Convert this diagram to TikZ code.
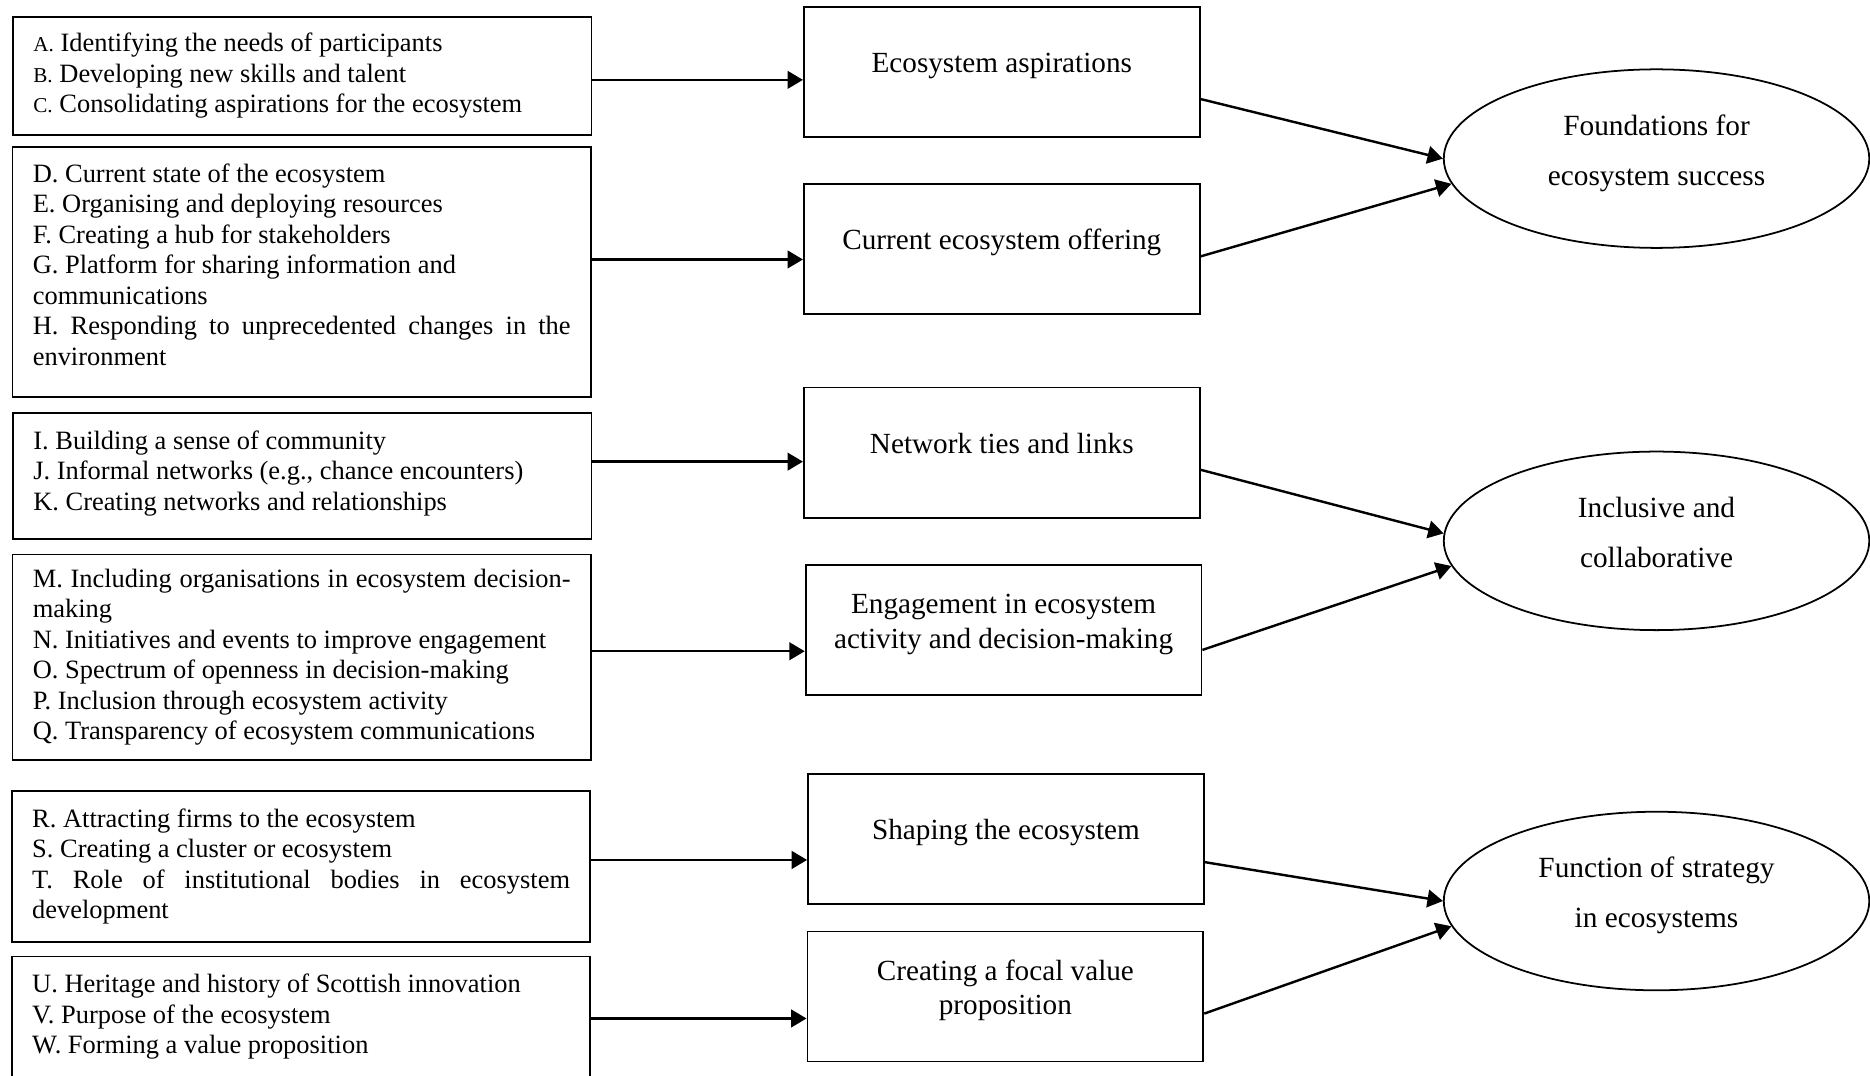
\documentclass[tikz,border=0pt]{standalone}
\usepackage{fontspec}
\setmainfont{Liberation Serif}
\usetikzlibrary{shapes.geometric,arrows.meta}
\newcommand{\smallcap}[1]{{\fontsize{9.6}{13.8}\selectfont #1}}
\newcommand{\fullline}[1]{\makebox[244pt][s]{#1}}
\newcommand{\liftup}[1]{\\[#1]\mbox{}}
\tikzset{
  natural spaces/.style={execute at begin node={\spaceskip=0pt\xspaceskip=0pt}},
  itembox/.style={draw, line width=0.8pt, text width=244pt, inner xsep=9.2pt, inner ysep=2pt,
    align=left, natural spaces, font=\fontsize{12}{13.8}\selectfont},
  themebox/.style={draw, line width=0.8pt, minimum width=179.6pt, minimum height=59pt,
    text width=171pt, inner xsep=4.3pt, align=flush center, natural spaces,
    font=\fontsize{13.25}{15.7}\selectfont},
  oneline/.style={text depth=8.3pt},
  twoline/.style={text depth=24pt},
  dimension/.style={ellipse, draw, line width=0.8pt, minimum width=193pt, minimum height=81pt,
    inner sep=0pt, align=center, natural spaces, font=\fontsize{13.3}{22.7}\selectfont},
  link/.style={->, line width=1.1pt}
}
\begin{document}
\begin{tikzpicture}[x=0.541pt,y=-0.541pt,>={Triangle[length=7pt,width=8pt]}]
    \useasboundingbox (0,0) rectangle (1568,902);
    % left column: coded items
    \node[itembox, minimum height=53.6pt] (L1) at (253.5,63.5) {\smallcap{A.} Identifying the needs of participants\\
      \smallcap{B.} Developing new skills and talent\\
      \smallcap{C.} Consolidating aspirations for the ecosystem};
    \node[itembox, minimum height=113.6pt] (L2) at (253,228) {D. Current state of the ecosystem\\
      E. Organising and deploying resources\\
      F. Creating a hub for stakeholders\\
      G. Platform for sharing information and\\
      communications\\
      \fullline{H. Responding to unprecedented changes in the}\\
      environment\liftup{-7pt}};
    \node[itembox, minimum height=57.3pt] (L3) at (253.5,399) {I. Building a sense of community\\
      J. Informal networks (e.g., chance encounters)\\
      K. Creating networks and relationships\liftup{-9pt}};
    \node[itembox, minimum height=93.1pt] (L4) at (253,551) {\fullline{M. Including organisations in ecosystem decision-}\\
      making\\
      N. Initiatives and events to improve engagement\\
      O. Spectrum of openness in decision-making\\
      P. Inclusion through ecosystem activity\\
      Q. Transparency of ecosystem communications};
    \node[itembox, minimum height=68.7pt] (L5) at (252.5,726.5) {R. Attracting firms to the ecosystem\\
      S. Creating a cluster or ecosystem\\
      \fullline{T. Role of institutional bodies in ecosystem}\\
      development};
    \node[itembox, minimum height=66pt] (L6) at (252.5,863) {U. Heritage and history of Scottish innovation\\
      V. Purpose of the ecosystem\\
      W. Forming a value proposition\\
      \mbox{}};
    % middle column: themes
    \node[themebox, oneline] (M1) at (840,60.5) {Ecosystem aspirations};
    \node[themebox, oneline] (M2) at (840,208.5) {Current ecosystem offering};
    \node[themebox, oneline] (M3) at (840,379.5) {Network ties and links};
    \node[themebox, twoline] (M4) at (841.5,528.5) {Engagement in ecosystem\\activity and decision-making};
    \node[themebox, oneline] (M5) at (843.5,703.5) {Shaping the ecosystem};
    \node[themebox, twoline] (M6) at (843,835.5) {Creating a focal value\\proposition};
    % right column: dimensions
    \node[dimension] (E1) at (1389,133) {Foundations for\\ecosystem success\liftup{-15pt}};
    \node[dimension] (E2) at (1389,453.5) {Inclusive and\\collaborative\liftup{-15pt}};
    \node[dimension] (E3) at (1389,755.5) {Function of strategy\\in ecosystems\liftup{-15pt}};
    % arrows
    \foreach \i/\dl/\dr/\e/\ang in {1/-3.5/-12.2/1/180, 2/-4.9/-3.5/1/187, 3/-4.1/-7.8/2/178,
        4/-9.5/-8.9/2/187, 5/-9.5/-10.5/3/180, 6/-10/-7.8/3/187}{
      \coordinate (in\i) at ([yshift=\dl pt]M\i.west);
      \draw[link] (in\i -| L\i.east) -- (in\i);
      \draw[link] ([yshift=\dr pt]M\i.east) -- (E\e.\ang);
    }
\end{tikzpicture}
\end{document}
